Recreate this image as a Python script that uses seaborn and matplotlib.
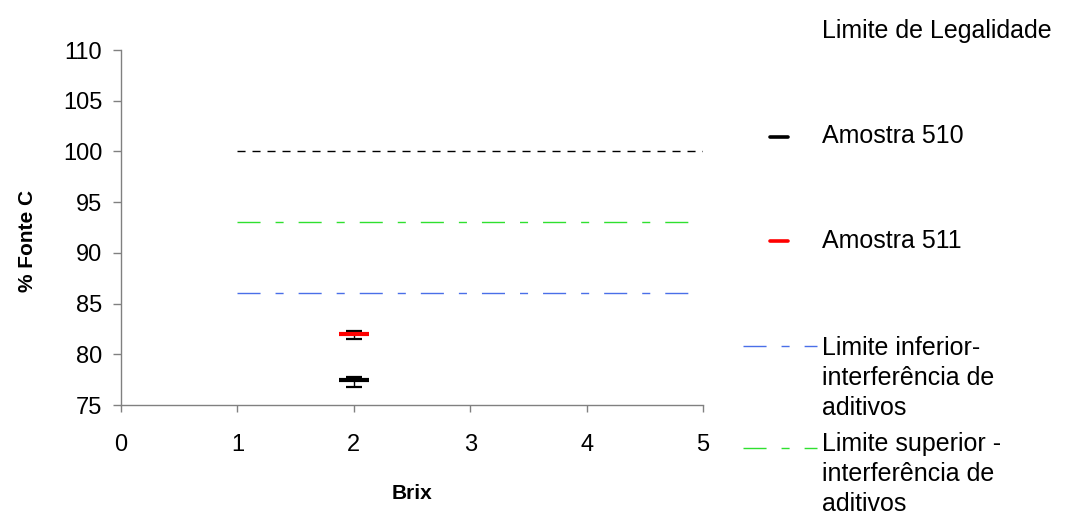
import matplotlib
matplotlib.use("Agg")
import matplotlib.pyplot as plt
from matplotlib.lines import Line2D
import seaborn as sns
import pandas as pd

# ---- data ----
limit_names = ["Limite de Legalidade", "Limite superior - interferência de aditivos",
               "Limite inferior- interferência de aditivos"]
limit_values = [100, 93, 86]
limit_x = [1, 5]

sample_names = ["Amostra 510", "Amostra 511"]
sample_brix = [2, 2]
sample_fonte_c = [77.5, 82.0]
sample_err_low = [0.7, 0.5]
sample_err_high = [0.3, 0.3]

x_ticks = [0, 1, 2, 3, 4, 5]
y_ticks = [75, 80, 85, 90, 95, 100, 105, 110]

W, H = 1065, 521
sns.set_theme(style="white")
plt.rcParams['font.family'] = ['Liberation Sans', 'DejaVu Sans']
plt.rcParams['text.color'] = 'black'
plt.rcParams['axes.labelcolor'] = 'black'

fig = plt.figure(figsize=(W / 100, H / 100), dpi=100)
ax = fig.add_axes([121 / W, 1 - 405 / H, (703 - 121) / W, (405 - 50) / H])

green = "#2fe02f"
blue = "#4a6fe8"
black_dash = (0, (5.8, 5.0))
dashdot = (0, (16.6, 10.8, 5.8, 10.8))

rows = []
for n, v in zip(limit_names, limit_values):
    for xx in limit_x:
        rows.append({"limit": n, "Brix": xx, "val": v})
lim_df = pd.DataFrame(rows)
styles = {limit_names[0]: ("black", black_dash),
          limit_names[1]: (green, dashdot),
          limit_names[2]: (blue, dashdot)}
for n in limit_names:
    sub = lim_df[lim_df["limit"] == n]
    c, ls = styles[n]
    sns.lineplot(data=sub, x="Brix", y="val", ax=ax, color=c, linewidth=1.0,
                 linestyle=ls, legend=False)

# samples
sample_colors = ["black", "red"]
ax.errorbar(sample_brix, sample_fonte_c, yerr=[sample_err_low, sample_err_high],
            fmt="none", ecolor="black", elinewidth=1.0, capsize=5.5, capthick=1.6, zorder=3)
sdf = pd.DataFrame({"Brix": sample_brix, "fc": sample_fonte_c, "s": sample_names})
sns.scatterplot(data=sdf, x="Brix", y="fc", hue="s", palette=sample_colors, marker="_",
                s=470, linewidth=3.0, ax=ax, legend=False, zorder=4)

ax.set_xlim(0, 5)
ax.set_ylim(75, 110)
ax.set_xticks(x_ticks)
ax.set_yticks(y_ticks)
ax.tick_params(axis="both", labelsize=17, labelcolor="black")
ax.tick_params(axis="x", direction="out", length=5, width=1, color="#808080", pad=16)
ax.tick_params(axis="y", direction="out", length=5.5, width=1, color="#808080", pad=8)
ax.tick_params(left=True, bottom=True)
for side in ["top", "right"]:
    ax.spines[side].set_visible(False)
for side in ["left", "bottom"]:
    ax.spines[side].set_color("#808080")
    ax.spines[side].set_linewidth(1.0)
ax.set_xlabel("Brix", fontsize=15, fontweight="bold", color="black")
ax.set_ylabel("% Fonte C", fontsize=15, fontweight="bold", color="black")
ax.xaxis.set_label_coords(0.5, (405 - 484) / 355)
ax.yaxis.set_label_coords((37 - 121) / 582, (405 - 241) / 355)

# ---- legend (manual, right side) ----
def fx(px):
    return px / W

def fy(py):
    return 1 - py / H

leg_fs = 18
fig.text(fx(822), fy(38), "Limite de Legalidade", fontsize=leg_fs, va="baseline", ha="left")
fig.text(fx(822), fy(143), sample_names[0], fontsize=leg_fs, va="baseline", ha="left")
fig.add_artist(Line2D([fx(770), fx(788)], [fy(137), fy(137)], color="black", lw=2.6))
fig.text(fx(822), fy(248), sample_names[1], fontsize=leg_fs, va="baseline", ha="left")
fig.add_artist(Line2D([fx(770), fx(788)], [fy(241), fy(241)], color="red", lw=2.6))

# multi-line: va="baseline" aligns the last line's baseline
fig.text(fx(822), fy(415), "Limite inferior-\ninterferência de\naditivos", fontsize=leg_fs,
         va="baseline", ha="left", linespacing=1.31)
fig.add_artist(Line2D([fx(743), fx(817)], [fy(346), fy(346)], color=blue, lw=1.0, linestyle=dashdot))
fig.text(fx(822), fy(511), "Limite superior -\ninterferência de\naditivos", fontsize=leg_fs,
         va="baseline", ha="left", linespacing=1.31)
fig.add_artist(Line2D([fx(743), fx(817)], [fy(448), fy(448)], color=green, lw=1.0, linestyle=dashdot))

fig.savefig("out.png", dpi=100, facecolor="white")
